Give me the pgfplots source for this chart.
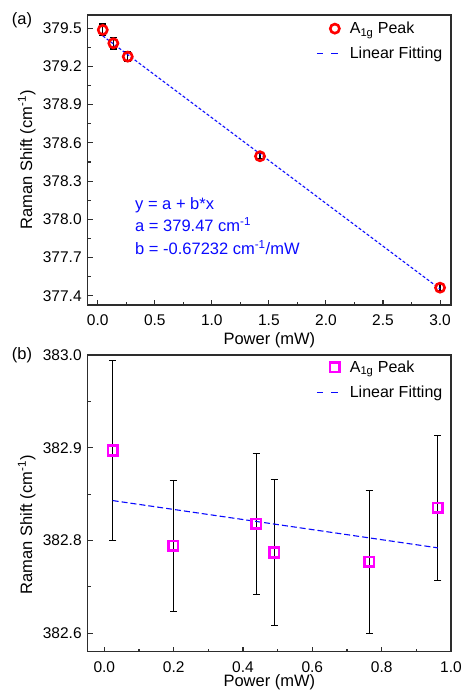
\documentclass[border=0pt]{standalone}
\usepackage{fontspec}
\setmainfont{Liberation Sans}
\usepackage{pgfplots}
\pgfplotsset{compat=1.18}

\definecolor{axgray}{RGB}{45,45,45}
\definecolor{fitblue}{RGB}{10,10,255}
\definecolor{ptred}{RGB}{255,0,0}
\definecolor{ptmag}{RGB}{255,0,255}

\pgfplotsset{
    ramanaxis/.style={
        scale only axis,
        width  = 363.3pt,
        xtick pos = lower,
        ytick pos = left,
        tick align = inside,
        axis line style = {axgray, line width=1.2pt},
        tick style = {axgray, line width=1.1pt},
        major tick length = 5pt,
        minor tick length = 3pt,
        minor tick num = 1,
        tick label style = {font=\fontsize{15.5}{18}\selectfont,
                            /pgf/number format/assume math mode=true},
        xticklabel style = {yshift=-6pt},
        yticklabel style = {xshift=-2.5pt},
        xlabel = {Power (mW)},
        ylabel = {Raman Shift (cm\textsuperscript{-1})},
        every axis x label/.style = {anchor=center, font=\fontsize{16.5}{20}\selectfont},
        every axis y label/.style = {rotate=90, anchor=center, font=\fontsize{16.5}{20}\selectfont},
        legend cell align = left,
        legend style = {draw=none, fill=none,
                        font=\fontsize{16}{19}\selectfont,
                        anchor=north west, row sep=8pt,
                        nodes={inner sep=2pt}},
        error bars/error bar style = {black, line width=1.2pt},
        error bars/error mark options = {rotate=90, black, mark size=3.6pt, line width=1.2pt},
    },
    fitlegend/.style={
        legend image code/.code={
            \path[draw=none, fill=none] (0pt,-6pt) rectangle (31pt,6pt);
            \draw[fitblue, line width=1.4pt, dash pattern=on 6.5pt off 8pt] (0pt,0pt) -- (21pt,0pt);
        },
    },
}

\begin{document}
\begin{tikzpicture}[x=1pt, y=1pt]
    \useasboundingbox (0,0) rectangle (463,691);

    % (a) power series up to 3 mW
    \begin{axis}[
        ramanaxis,
        at = {(87.7pt,386pt)}, anchor = south west,
        height = 290pt,
        xmin = -0.088, xmax = 3.096,
        ymin = 377.327, ymax = 379.604,
        xtick = {0,0.5,...,3.0},
        ytick = {377.4,377.7,378.0,378.3,378.6,378.9,379.2,379.5},
        xticklabel style = {/pgf/number format/.cd, fixed, fixed zerofill, precision=1},
        yticklabel style = {/pgf/number format/.cd, fixed, fixed zerofill, precision=1},
        every axis x label/.append style = {at={(rel axis cs:0.5,0)}, yshift=-35pt},
        every axis y label/.append style = {at={(rel axis cs:-0.168,0.5)}},
        legend style = {at={(rel axis cs:0.62,0.99)}},
    ]
        \addplot[
            only marks, mark=o, mark size=4.6pt,
            mark options={ptred, line width=2.6pt},
            legend image code/.code={
                \path[draw=none, fill=none] (0pt,-6pt) rectangle (31pt,6pt);
                \draw[ptred, line width=2.6pt] (18pt,0pt) circle (4.6pt);
            },
            error bars/.cd, y dir=both, y explicit,
        ] coordinates {
            (0.044, 379.487) +- (0, 0.046)
            (0.137, 379.382) +- (0, 0.045)
            (0.263, 379.277) +- (0, 0.040)
            (1.422, 378.495) +- (0, 0.020)
            (3.000, 377.463) +- (0, 0.025)
        };
        \addlegendentry{A\textsubscript{1g} Peak}

        \addplot[fitblue, line width=1.1pt, dash pattern=on 3pt off 2pt, fitlegend] coordinates {
            (0.044, 379.440)
            (3.000, 377.453)
        };
        \addlegendentry{Linear Fitting}
    \end{axis}

    % fit result
    \begin{scope}[every node/.style={anchor=base west, text=fitblue, inner sep=0pt,
                                     font=\fontsize{16.5}{20}\selectfont}]
        \node at (135, 481) {y = a + b*x};
        \node at (135, 459) {a = 379.47 cm\textsuperscript{-1}};
        \node at (135, 436) {b = -0.67232 cm\textsuperscript{-1}/mW};
    \end{scope}

    % (b) low power series
    \begin{axis}[
        ramanaxis,
        at = {(87.7pt,39.3pt)}, anchor = south west,
        height = 296.7pt,
        xmin = -0.048, xmax = 1.0,
        ymin = 382.680, ymax = 383.0,
        xtick = {0,0.2,...,1.0},
        ytick = {382.7,382.8,382.9,383.0},
        yticklabels = {382.6,382.8,382.9,383.0},
        xticklabel style = {/pgf/number format/.cd, fixed, fixed zerofill, precision=1},
        every axis x label/.append style = {at={(rel axis cs:0.5,0)}, yshift=-31pt},
        every axis y label/.append style = {at={(rel axis cs:-0.168,0.427)}},
        legend style = {at={(rel axis cs:0.62,0.995)}},
    ]
        \addplot[
            only marks, mark=square, mark size=4.8pt,
            mark options={ptmag, line width=2.6pt},
            legend image code/.code={
                \path[draw=none, fill=none] (0pt,-6pt) rectangle (31pt,6pt);
                \draw[ptmag, line width=2.6pt] (13.2pt,-4.8pt) rectangle (22.8pt,4.8pt);
            },
            error bars/.cd, y dir=both, y explicit,
        ] coordinates {
            (0.024, 382.897) +- (0, 0.097)
            (0.199, 382.794) +- (0, 0.071)
            (0.438, 382.818) +- (0, 0.076)
            (0.490, 382.787) +- (0, 0.079)
            (0.764, 382.777) +- (0, 0.077)
            (0.962, 382.835) +- (0, 0.078)
        };
        \addlegendentry{A\textsubscript{1g} Peak}

        \addplot[fitblue, line width=1.1pt, dash pattern=on 6pt off 3pt, fitlegend] coordinates {
            (0.024, 382.843)
            (0.962, 382.792)
        };
        \addlegendentry{Linear Fitting}
    \end{axis}

    % panel letters
    \node[font=\fontsize{16.5}{20}\selectfont] at (22, 671) {(a)};
    \node[font=\fontsize{16.5}{20}\selectfont] at (22, 336) {(b)};
\end{tikzpicture}
\end{document}
